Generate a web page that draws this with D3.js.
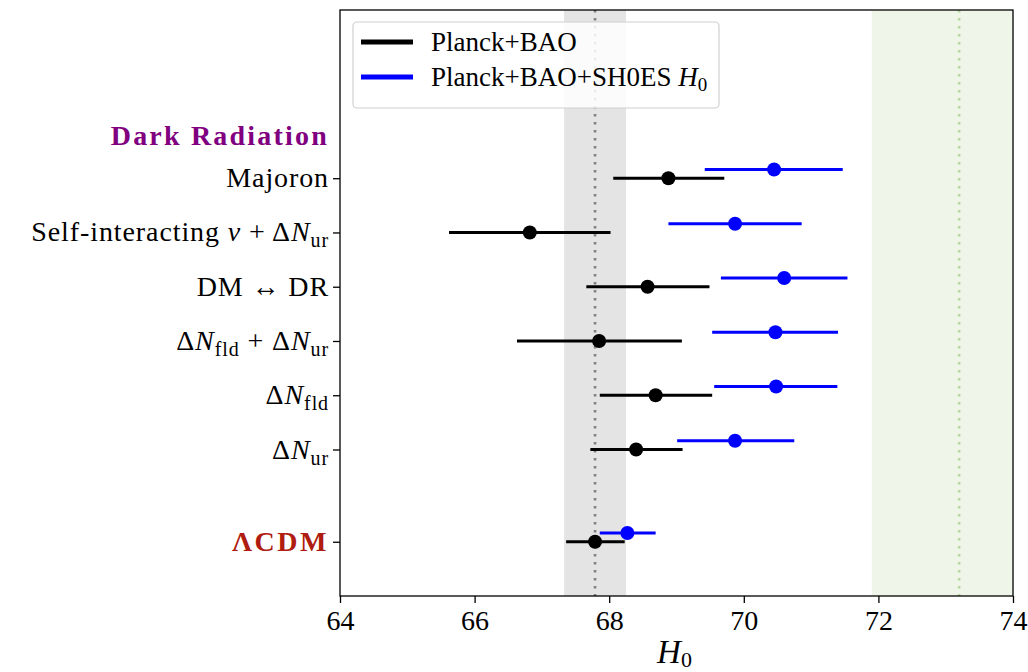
<!DOCTYPE html>
<html><head><meta charset="utf-8">
<script src="https://cdn.jsdelivr.net/npm/d3@7"></script>
<style>body{margin:0;background:#fff}svg{display:block}text{font-family:"Liberation Serif","DejaVu Serif",serif}</style>
</head><body><svg id="c" width="1028" height="672"></svg>
<script>
// ---- data ----
const models = ["LCDM","dNur","dNfld","dNfld+dNur","DM-DR","SIv","Majoron"];
const rowPos = [0, 1.7, 2.7, 3.7, 4.7, 5.7, 6.7];
const labelParts = [
  [{t:"ΛCDM"}],
  [{t:"Δ"},{t:"N",i:1},{t:"ur",sub:1}],
  [{t:"Δ"},{t:"N",i:1},{t:"fld",sub:1}],
  [{t:"Δ"},{t:"N",i:1},{t:"fld",sub:1},{t:" + Δ"},{t:"N",i:1},{t:"ur",sub:1}],
  [{t:"DM  ↔  DR"}],
  [{t:"Self-interacting "},{t:"ν",i:1},{t:" + Δ"},{t:"N",i:1},{t:"ur",sub:1}],
  [{t:"Majoron"}]
];
const pbMean = [67.79, 68.40, 68.69, 67.85, 68.57, 66.82, 68.88];
const pbLow  = [67.36, 67.72, 67.86, 66.63, 67.66, 65.62, 68.06];
const pbHigh = [68.23, 69.09, 69.53, 69.08, 69.49, 68.02, 69.71];
const shMean = [68.27, 69.87, 70.48, 70.47, 70.60, 69.87, 70.45];
const shLow  = [67.86, 69.01, 69.56, 69.53, 69.66, 68.88, 69.42];
const shHigh = [68.69, 70.75, 71.39, 71.40, 71.54, 70.86, 71.47];
const headerLabel = "Dark Radiation";
const headerPos = 7.47;
const planckBand = [67.33, 68.25], planckCenter = 67.79;
const shoesBand = [71.9, 74.5], shoesCenter = 73.2;
const xTicks = [64, 66, 68, 70, 72, 74];
const seriesNames = ["Planck+BAO", "Planck+BAO+SH0ES"];

// ---- layout ----
const svg = d3.select("#c");
const L = 340, R = 1013, T = 10, B = 596;
const x = d3.scaleLinear().domain([64, 74]).range([L, R]);
const y = d3.scaleLinear().domain([-1, 9.8]).range([B, T]);
const off = 0.16;
const serif = '"Liberation Serif","DejaVu Serif",serif';

const defs = svg.append("defs");
defs.append("clipPath").attr("id","clip").append("rect").attr("x",L).attr("y",T).attr("width",R-L).attr("height",B-T);
const g = svg.append("g").attr("clip-path","url(#clip)");

g.append("rect").attr("x", x(planckBand[0])).attr("width", x(planckBand[1]) - x(planckBand[0]))
  .attr("y", T).attr("height", B - T).attr("fill", "#e4e4e4");
g.append("rect").attr("x", x(shoesBand[0])).attr("width", x(shoesBand[1]) - x(shoesBand[0]))
  .attr("y", T).attr("height", B - T).attr("fill", "#eff5e8");
g.append("line").attr("x1", x(planckCenter)).attr("x2", x(planckCenter)).attr("y1", T).attr("y2", B)
  .attr("stroke", "#808080").attr("stroke-width", 2.6).attr("stroke-dasharray", "2.6,5.4");
g.append("line").attr("x1", x(shoesCenter)).attr("x2", x(shoesCenter)).attr("y1", T).attr("y2", B)
  .attr("stroke", "#b8d8a0").attr("stroke-width", 2.6).attr("stroke-dasharray", "2.6,5.4");

function drawSeries(mean, lo, hi, color, dy) {
  const s = g.append("g");
  s.selectAll("line").data(models).join("line")
    .attr("x1", (d,i) => x(lo[i])).attr("x2", (d,i) => x(hi[i]))
    .attr("y1", (d,i) => y(rowPos[i] + dy)).attr("y2", (d,i) => y(rowPos[i] + dy))
    .attr("stroke", color).attr("stroke-width", 3);
  s.selectAll("circle").data(models).join("circle")
    .attr("cx", (d,i) => x(mean[i])).attr("cy", (d,i) => y(rowPos[i] + dy))
    .attr("r", 7).attr("fill", color);
}
drawSeries(pbMean, pbLow, pbHigh, "#000", 0);
drawSeries(shMean, shLow, shHigh, "#0000ff", off);

// frame
svg.append("rect").attr("x", L).attr("y", T).attr("width", R - L).attr("height", B - T)
  .attr("fill", "none").attr("stroke", "#000").attr("stroke-width", 1.3);

// x axis
const xa = svg.append("g").attr("transform", `translate(0,${B})`)
  .call(d3.axisBottom(x).tickValues(xTicks).tickSize(7).tickPadding(7).tickFormat(d3.format("d")));
xa.attr("font-family", null).attr("font-size", null);
xa.select(".domain").remove();
xa.selectAll(".tick line").attr("stroke-width", 1.3);
xa.selectAll(".tick text").style("font-size", "28px").style("font-family", serif).attr("fill", "#000");
const xl = svg.append("text").attr("x", (L + R) / 2 - 2).attr("y", 663).attr("text-anchor", "middle").attr("font-size", 33);
xl.append("tspan").attr("font-style", "italic").text("H");
xl.append("tspan").attr("font-size", 22).attr("dy", 4).text("0");

// y axis
const ya = svg.append("g").attr("transform", `translate(${L},0)`)
  .call(d3.axisLeft(y).tickValues(rowPos).tickSize(7).tickFormat(""));
ya.select(".domain").remove();
ya.selectAll(".tick line").attr("stroke-width", 1.3);

const lab = svg.append("g");
models.forEach((m, i) => {
  const t = lab.append("text").attr("x", L - 11).attr("y", y(rowPos[i]) + 9)
    .attr("text-anchor", "end").attr("font-size", 28)
    .attr("letter-spacing", i === 0 ? 2.5 : 0.9)
    .attr("fill", i === 0 ? "#b01c10" : "#000").attr("font-weight", i === 0 ? "bold" : "normal");
  let sub = false;
  labelParts[i].forEach(p => {
    const ts = t.append("tspan").text(p.t);
    if (p.i) ts.attr("font-style", "italic");
    if (p.sub) { ts.attr("font-size", 20).attr("dy", 6); sub = true; }
    else if (sub) { ts.attr("dy", -6); sub = false; }
  });
});
svg.append("text").attr("x", L - 11).attr("y", y(headerPos) + 9).attr("text-anchor", "end")
  .attr("font-size", 28).attr("letter-spacing", 2.2).attr("font-weight", "bold").attr("fill", "#800080").text(headerLabel);

// legend
const lg = svg.append("g");
lg.append("rect").attr("x", 353).attr("y", 22).attr("width", 366).attr("height", 86).attr("rx", 4)
  .attr("fill", "#fff").attr("fill-opacity", 0.85).attr("stroke", "#d0d0d0").attr("stroke-width", 1.2);
const legColors = ["#000", "#0000ff"];
seriesNames.forEach((n, i) => {
  const yy = 42 + i * 35;
  lg.append("line").attr("x1", 361).attr("x2", 413).attr("y1", yy).attr("y2", yy)
    .attr("stroke", legColors[i]).attr("stroke-width", 5);
  const t = lg.append("text").attr("x", 431).attr("y", yy + 9).attr("font-size", 27).text(n);
  if (i === 1) {
    t.append("tspan").text(" ");
    t.append("tspan").attr("font-style", "italic").text("H");
    t.append("tspan").attr("font-size", 19).attr("dy", 5).text("0");
  }
});
</script></body></html>
